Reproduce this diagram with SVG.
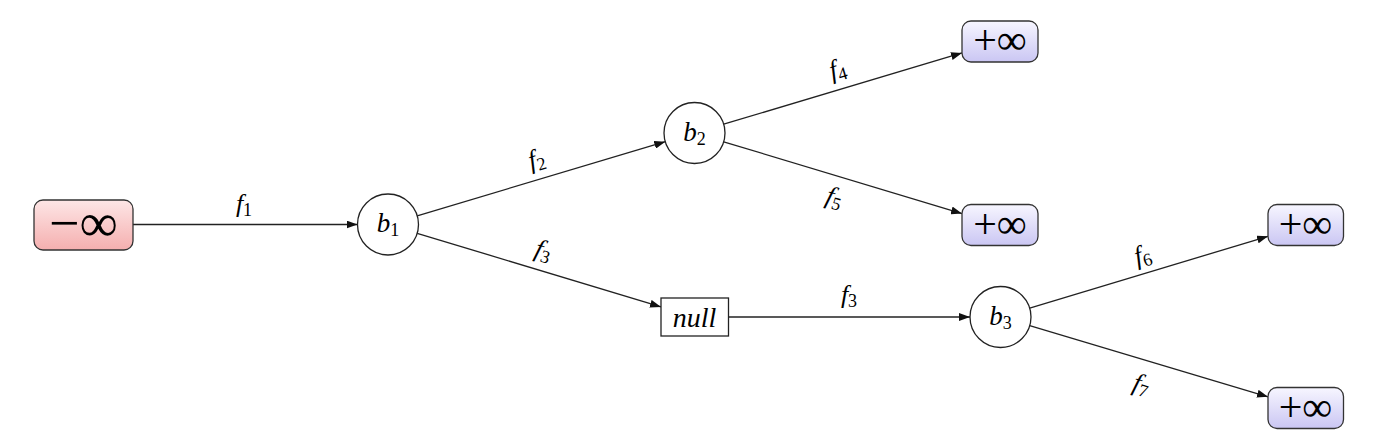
<svg xmlns="http://www.w3.org/2000/svg" width="1380" height="446" viewBox="0 0 1380 446">
<defs>
  <linearGradient id="gPink" x1="0" y1="0" x2="0" y2="1">
    <stop offset="0" stop-color="#fde6e6"/>
    <stop offset="1" stop-color="#f5afaf"/>
  </linearGradient>
  <linearGradient id="gBlue" x1="0" y1="0" x2="0" y2="1">
    <stop offset="0" stop-color="#f7f6ff"/>
    <stop offset="1" stop-color="#cac6f3"/>
  </linearGradient>
  <marker id="arr" viewBox="0 0 11 8" refX="11" refY="4" markerWidth="11" markerHeight="8" markerUnits="userSpaceOnUse" orient="auto">
    <path d="M0,0 L11,4 L0,8 z" fill="#111"/>
  </marker>
  <style>
    .edge { fill: none; stroke: #222; stroke-width: 1.3; marker-end: url(#arr); }
    .circ { fill: #fff; stroke: #222; stroke-width: 1.3; }
    .box { stroke: #333; stroke-width: 1.3; }
    .nullbox { fill: #fff; stroke: #222; stroke-width: 1.3; }
    text { font-family: 'Liberation Serif', 'Times New Roman', serif; fill: #000; }
    .it { font-style: italic; }
    .lbl { font-style: italic; font-size: 26px; text-anchor: middle; }
    .sub { font-style: normal; font-size: 18px; }
  </style>
</defs>

<g id="connectors">
  <path class="edge" d="M133,224.5 L357.5,224.5"/>
  <path class="edge" d="M417.2,215.8 L665.3,141.7"/>
  <path class="edge" d="M417.2,233.3 L661,306.9"/>
  <path class="edge" d="M728.5,317 L970,317"/>
  <path class="edge" d="M723.7,124.2 L962,52.9"/>
  <path class="edge" d="M723.7,141.8 L962,213.6"/>
  <path class="edge" d="M1029.7,308.2 L1268,236.3"/>
  <path class="edge" d="M1029.7,325.7 L1268,396.8"/>
</g>

<g id="edge-labels">
  <text class="lbl" x="244" y="212">f<tspan class="sub" dy="4">1</tspan></text>
  <g transform="translate(537,161) rotate(-16.7)"><text class="lbl" x="0" y="6">f<tspan class="sub" dy="4">2</tspan></text></g>
  <g transform="translate(543,252) rotate(16.7)"><text class="lbl" x="0" y="6">f<tspan class="sub" dy="4">3</tspan></text></g>
  <g transform="translate(838,71) rotate(-16.7)"><text class="lbl" x="0" y="6">f<tspan class="sub" dy="4">4</tspan></text></g>
  <g transform="translate(834,199) rotate(16.7)"><text class="lbl" x="0" y="6">f<tspan class="sub" dy="4">5</tspan></text></g>
  <text class="lbl" x="849" y="303">f<tspan class="sub" dy="4">3</tspan></text>
  <g transform="translate(1143,257) rotate(-16.7)"><text class="lbl" x="0" y="6">f<tspan class="sub" dy="4">6</tspan></text></g>
  <g transform="translate(1141,386) rotate(16.7)"><text class="lbl" x="0" y="6">f<tspan class="sub" dy="4">7</tspan></text></g>
</g>

<g id="n-minf">
  <rect class="box" x="34" y="200" width="99" height="50" rx="9" fill="url(#gPink)"/>
  <text x="83.5" y="241" font-size="54" text-anchor="middle">−∞</text>
</g>

<g id="n-b1">
  <circle class="circ" cx="388" cy="224.5" r="30.5"/>
  <text class="it" x="388" y="232" font-size="27" text-anchor="middle">b<tspan class="sub" dy="4">1</tspan></text>
</g>

<g id="n-b2">
  <circle class="circ" cx="694.5" cy="133" r="30.5"/>
  <text class="it" x="694.5" y="140.5" font-size="27" text-anchor="middle">b<tspan class="sub" dy="4">2</tspan></text>
</g>

<g id="n-null">
  <rect class="nullbox" x="661" y="298" width="67.5" height="38"/>
  <text class="it" x="694.5" y="326.5" font-size="28" text-anchor="middle">null</text>
</g>

<g id="n-b3">
  <circle class="circ" cx="1000.5" cy="317" r="30.5"/>
  <text class="it" x="1000.5" y="324.5" font-size="27" text-anchor="middle">b<tspan class="sub" dy="4">3</tspan></text>
</g>

<g id="n-pinf1">
  <rect class="box" x="962" y="21" width="76" height="41" rx="9" fill="url(#gBlue)"/>
  <text x="1000" y="54" font-size="42" text-anchor="middle">+∞</text>
</g>

<g id="n-pinf2">
  <rect class="box" x="962" y="204.5" width="76" height="41" rx="9" fill="url(#gBlue)"/>
  <text x="1000" y="237.5" font-size="42" text-anchor="middle">+∞</text>
</g>

<g id="n-pinf3">
  <rect class="box" x="1268" y="204.5" width="75.5" height="41" rx="9" fill="url(#gBlue)"/>
  <text x="1305.5" y="237.5" font-size="42" text-anchor="middle">+∞</text>
</g>

<g id="n-pinf4">
  <rect class="box" x="1268" y="387.5" width="75.5" height="41" rx="9" fill="url(#gBlue)"/>
  <text x="1305.5" y="420.5" font-size="42" text-anchor="middle">+∞</text>
</g>
</svg>
